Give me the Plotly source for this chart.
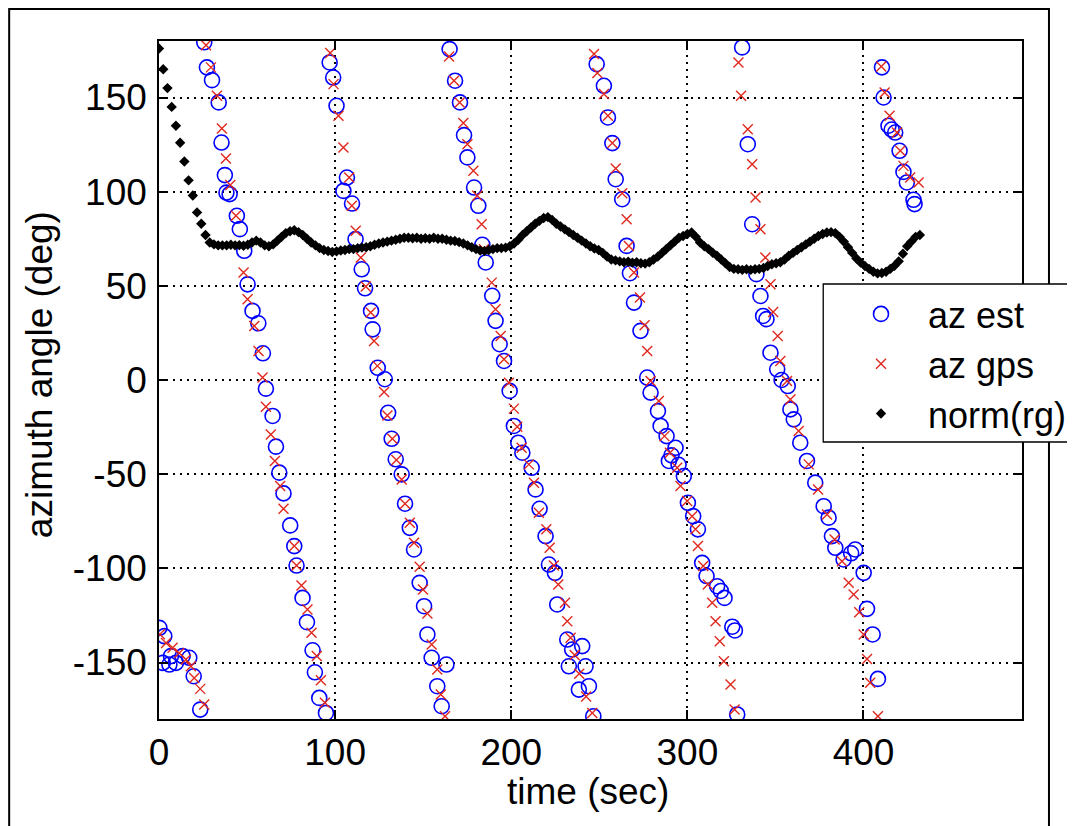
import plotly.graph_objects as go

# ---------------- data ----------------
# az est (blue circles): time (s), azimuth (deg)
est_t = [0.2, 3.0, 2.1, 5.9, 6.8, 9.6, 13.4, 17.2, 19.7, 23.4,
         25.7, 27.2, 30.1, 33.9, 35.5, 37.4, 38.3, 40.1, 44.2, 45.9, 48.4, 50.3, 53.1, 56.4, 59.0,
         60.7, 64.5, 66.4, 68.3, 70.7, 74.5, 76.8, 78.1, 81.5, 84.0, 87.2, 88.5, 91.0, 94.8,
         96.9, 98.9, 100.8, 104.7, 106.7, 109.6, 111.6, 115.1, 117.0, 120.4, 121.3, 124.2, 128.2,
         130.1, 132.1, 134.4, 137.8, 139.7, 142.4, 144.8, 148.0, 150.5, 152.4, 154.8, 158.0, 160.5, 163.2,
         165.0, 168.1, 170.9, 173.2, 175.1, 178.9, 181.3, 183.6, 185.5, 189.2, 191.1, 193.4, 195.9,
         199.1, 201.5, 204.0, 206.3, 211.6, 213.8, 216.1, 219.5, 221.4, 224.8, 226.1, 231.8, 232.7,
         234.6, 238.4, 240.3, 242.2, 244.1, 246.6,
         248.5, 252.6, 254.9, 257.4, 259.3, 263.0, 265.5, 267.4, 269.7, 273.4, 277.2,
         279.1, 283.3, 284.8, 288.2, 289.5, 291.0, 293.3, 295.0, 298.0, 300.3, 303.3, 306.0, 308.4,
         310.9, 316.9, 319.0, 321.1, 325.5, 327.0, 328.3,
         331.1, 334.3, 336.8, 339.2, 341.5, 343.0, 344.9, 347.2, 351.0, 353.5, 357.0, 358.5, 360.4,
         364.1, 367.9, 372.6, 377.4, 380.2, 382.1, 384.0, 388.7, 393.0, 395.3, 400.1, 402.0, 405.2, 408.2,
         410.5, 411.4, 414.2, 416.0, 418.0, 420.5, 422.7, 424.6, 428.4, 429.0]
est_v = [-131.6, -136.0, -150.2, -151.1, -146.6, -150.2, -146.6, -147.5, -157.3, -175.0,
         179.3, 166.0, 159.2, 147.4, 126.1, 108.8, 99.5, 98.7, 87.2, 80.1, 68.6, 50.8, 36.7, 30.1, 14.2,
         -4.6, -19.1, -35.4, -49.2, -60.2, -77.2, -88.2, -98.5, -115.7, -128.6, -143.5, -155.2, -168.8, -176.8,
         168.6, 160.6, 145.6, 100.4, 107.5, 93.7, 74.8, 58.8, 48.7, 36.7, 26.9, 6.5, 0.4,
         -17.4, -31.2, -42.1, -50.1, -65.7, -78.5, -90.0, -107.7, -120.1, -135.1, -147.5, -162.6, -173.2, -151.1,
         175.7, 158.9, 147.4, 130.0, 118.2, 102.2, 92.5, 71.8, 62.4, 44.7, 31.4, 19.0, 10.1,
         -5.8, -24.4, -33.3, -38.6, -46.6, -58.1, -68.4, -82.9, -98.0, -102.4, -119.2, -137.8, -152.0,
         -143.1, -164.4, -141.3, -152.0, -162.6, -178.5,
         167.7, 156.2, 139.4, 125.8, 106.6, 96.0, 71.2, 56.7, 41.1, 26.1, 1.3,
         -6.7, -16.5, -24.4, -29.8, -43.0, -40.0, -36.0, -45.0, -51.0, -65.2, -72.3, -79.3, -97.1,
         -104.1, -109.5, -112.0, -115.7, -131.0, -133.0, -177.6,
         176.6, 125.2, 82.7, 56.2, 44.6, 34.0, 32.3, 14.5, 5.7, 0.0, -3.2, -15.6, -20.9,
         -33.3, -43.0, -54.5, -67.0, -73.1, -82.9, -89.1, -95.3, -92.0, -90.0, -102.4, -121.5, -135.1, -158.7,
         166.0, 150.0, 135.0, 133.0, 131.4, 121.7, 110.5, 104.9, 95.7, 93.4]

# az gps (red crosses)
gps_t = [0.5, 4.0, 7.7, 11.5, 15.3, 18.1, 20.0, 23.4, 25.7,
         26.7, 29.5, 32.9, 35.7, 38.0, 40.5, 43.7, 48.0, 50.3, 54.1, 56.5, 58.8,
         60.7, 63.5, 65.8, 68.8, 70.7, 76.8, 78.1, 80.9, 84.3, 86.6, 89.6, 91.9, 94.2,
         97.2, 99.1, 101.9, 104.7, 108.0, 109.5, 111.7, 114.6, 117.4, 120.2, 122.1, 124.0,
         127.8, 129.7, 132.5, 134.8, 137.8, 139.7, 142.4, 144.8, 148.0, 149.9, 152.4, 154.8, 158.0, 160.0, 162.4,
         164.7, 167.5, 170.7, 172.8, 175.1, 178.5, 180.7, 183.2, 184.5, 188.9, 191.1, 194.0, 195.9,
         198.7, 201.5, 203.4, 205.9, 210.0, 212.9, 215.7, 219.9, 221.8, 224.2, 226.7, 230.5, 231.8,
         233.7, 236.0, 238.6, 242.5, 246.0,
         247.0, 248.9, 252.6, 254.9, 257.4, 259.3, 263.0, 265.5, 266.8, 269.7, 273.1, 275.7, 277.2,
         279.1, 283.8, 287.0, 290.1, 294.2, 296.1, 299.9, 302.7, 304.6, 306.0, 309.0, 311.6, 314.1,
         316.0, 318.4, 320.7, 324.5, 326.8,
         329.0, 330.5, 334.3, 336.8, 338.7, 341.5, 344.3, 347.2, 348.7, 351.3, 352.8, 356.6, 358.5,
         363.2, 368.9, 374.2, 379.3, 383.6, 387.8, 391.6, 394.4, 397.6, 400.1, 402.0, 403.8, 408.2,
         410.1, 412.0, 414.8, 419.0, 420.9, 422.7, 426.5, 431.3]
gps_v = [-135.0, -139.6, -142.2, -144.9, -148.4, -152.0, -158.2, -164.0, -172.3,
         177.8, 166.0, 150.9, 133.6, 117.6, 103.5, 87.2, 57.1, 42.9, 28.7, 15.4, 1.3,
         -14.2, -28.9, -43.0, -56.3, -68.4, -88.2, -98.5, -109.1, -121.9, -134.2, -146.6, -159.4, -171.4,
         173.6, 157.1, 140.3, 123.5, 107.5, 92.5, 79.2, 65.0, 49.6, 35.8, 20.7, 7.5,
         -6.4, -18.8, -31.2, -42.5, -52.8, -65.7, -75.8, -86.4, -99.2, -111.2, -124.0, -140.4, -153.7, -167.0, -178.5,
         171.8, 158.9, 147.4, 136.4, 125.2, 111.1, 97.8, 82.7, 69.4, 51.7, 37.6, 23.4, 11.0,
         -1.4, -15.2, -24.8, -36.0, -44.8, -54.5, -70.5, -79.3, -89.1, -98.5, -108.6, -118.3, -128.1,
         -136.9, -146.0, -156.0, -168.0, -176.8,
         173.1, 163.0, 151.8, 140.3, 125.8, 112.3, 99.2, 85.4, 71.2, 57.1, 43.8, 29.1, 15.4,
         -0.5, -11.2, -29.8, -38.6, -46.6, -56.3, -64.3, -72.3, -79.3, -88.2, -98.8, -108.6, -118.3,
         -128.1, -138.7, -149.3, -161.7, -175.0,
         168.6, 150.9, 133.2, 114.6, 96.9, 80.1, 65.0, 50.8, 36.1, 23.4, 10.1, -0.5, -10.3,
         -27.1, -44.8, -58.1, -71.4, -84.7, -96.2, -107.7, -113.9, -123.3, -135.1, -148.1, -160.8, -178.5,
         166.5, 152.7, 140.3, 131.4, 121.7, 113.7, 107.5, 104.9]

# norm(rg) (black diamonds), sampled every 2.4 s from t = 0
rg_dt = 2.4
rg_v = [176, 165, 155, 145, 135, 126, 116, 106, 98, 89, 83, 77, 73,
        72, 71.5, 71.5, 71.5, 71.8, 71.5, 71.6, 71.3, 71.8, 73, 74, 73, 71.5, 71, 72, 74, 76, 78, 79,
        79.5, 78.5, 77, 75, 73, 71.5, 70, 69, 68.5, 68, 68.3, 68.8, 69, 69.5, 69.5, 70, 70.3, 70.5,
        71, 71.8, 72.5, 73, 73.5, 74, 74.5, 75, 75.5, 75.5, 75.3, 75.5, 75, 75.3, 75, 75.5, 75, 75,
        74.5, 74, 73.8, 73.2, 72.5, 71.5, 70.5, 69.5, 68.8, 68.5, 69, 69.5, 70, 70, 70.3, 71, 72.5,
        74.5, 77, 79, 81, 83, 84.5, 86, 86.5, 85, 83, 81.5, 80, 78.5, 77, 75.5, 74, 72.5, 71, 69.8,
        69, 67.5, 65.5, 64, 63.5, 63, 62.5, 62.8, 62.3, 62.5, 62, 61.8, 62.5, 64, 65.5, 67.5, 69.5,
        71.5, 73.5, 75.5, 76.5, 77.5, 78.3, 76, 73, 71, 69.5, 67.6, 66, 64, 62, 60, 59, 58.8, 58.5,
        58.8, 58.5, 58.8, 59, 59.5, 60.5, 61.5, 62, 62.5, 64, 66, 67.5, 69, 70.5, 72, 73.5, 75, 76.5,
        77.5, 78.3, 78.5, 78, 76, 73.5, 70.5, 67.5, 64.5, 62.3, 60.5, 59, 57.5, 56.6, 56.8, 57.5, 59,
        60.6, 63, 67, 71, 73.5, 76, 77]
rg_t = [round(i * rg_dt, 1) for i in range(len(rg_v))]

x_ticks = [0, 100, 200, 300, 400]
x_ticklabels = ["0", "100", "200", "300", "400"]
y_ticks = [-150, -100, -50, 0, 50, 100, 150]
y_ticklabels = ["-150", "-100", "-50", "0", "50", "100", "150"]

# ---------------- layout geometry ----------------
W, H = 1075, 826
OFF = 8                      # page body margin of the html page
L, R, T, B = 159, 1023, 41, 719   # target plot area on screen
PW, PH = R - L, B - T


def px(X):
    return (X - L) / PW


def py(Y):
    return (B - Y) / PH


FONT = "Liberation Sans, Arial, sans-serif"
FS = 37

fig = go.Figure()
fig.add_trace(go.Scatter(
    x=est_t, y=est_v, mode="markers", name="az est",
    marker=dict(symbol="circle-open", size=15, color="#0000FF", line=dict(width=1.6, color="#0000FF")),
))
fig.add_trace(go.Scatter(
    x=gps_t, y=gps_v, mode="markers", name="az gps",
    marker=dict(symbol="x-thin-open", size=10, color="#E0281E", line=dict(width=1.4, color="#E0281E")),
))
fig.add_trace(go.Scatter(
    x=rg_t, y=rg_v, mode="markers", name="norm(rg)",
    marker=dict(symbol="diamond", size=8, color="black", line=dict(width=0)),
))

axis_common = dict(
    showline=True, linecolor="black", linewidth=1.5, mirror="ticks",
    ticks="inside", ticklen=9, tickwidth=1.5, tickcolor="black",
    showgrid=True, gridcolor="black", gridwidth=1.6, griddash="2px,5px",
    zeroline=False,
    tickfont=dict(family=FONT, size=FS, color="black"),
)

fig.update_xaxes(range=[0, 490], tickvals=x_ticks, ticktext=x_ticklabels,
                 ticklabelstandoff=0, **axis_common)
fig.update_yaxes(range=[-180, 180], tickvals=y_ticks, ticktext=y_ticklabels,
                 ticklabelstandoff=3, **axis_common)

shapes = [
    # outer figure frame (left/top at the very edge of the figure)
    dict(type="rect", xref="paper", yref="paper", x0=px(9), x1=px(1050), y0=py(840), y1=py(9),
         line=dict(color="black", width=2), fillcolor="rgba(0,0,0,0)", layer="below"),
    # legend box
    dict(type="rect", xref="paper", yref="paper", x0=px(824), x1=px(1090), y0=py(442), y1=py(284),
         line=dict(color="black", width=1.3), fillcolor="white", layer="above"),
]

annotations = [
    dict(text="time (sec)", xref="paper", yref="paper", x=px(588), y=py(792),
         xanchor="center", yanchor="middle", showarrow=False,
         font=dict(family=FONT, size=FS, color="black")),
    dict(text="azimuth angle (deg)", xref="paper", yref="paper", x=px(40), y=py(375),
         xanchor="center", yanchor="middle", showarrow=False, textangle=-90,
         font=dict(family=FONT, size=FS, color="black")),
]

fig.update_layout(
    width=W, height=H,
    margin=dict(l=L - OFF, r=W - (R - OFF), t=T - OFF, b=H - (B - OFF), pad=0),
    paper_bgcolor="white", plot_bgcolor="white",
    showlegend=True,
    legend=dict(x=px(834), y=py(284), xanchor="left", yanchor="top",
                bgcolor="rgba(0,0,0,0)", borderwidth=0,
                font=dict(family=FONT, size=36, color="black"),
                itemwidth=84, tracegroupgap=0),
    shapes=shapes, annotations=annotations,
)

fig.write_html("out.html")
